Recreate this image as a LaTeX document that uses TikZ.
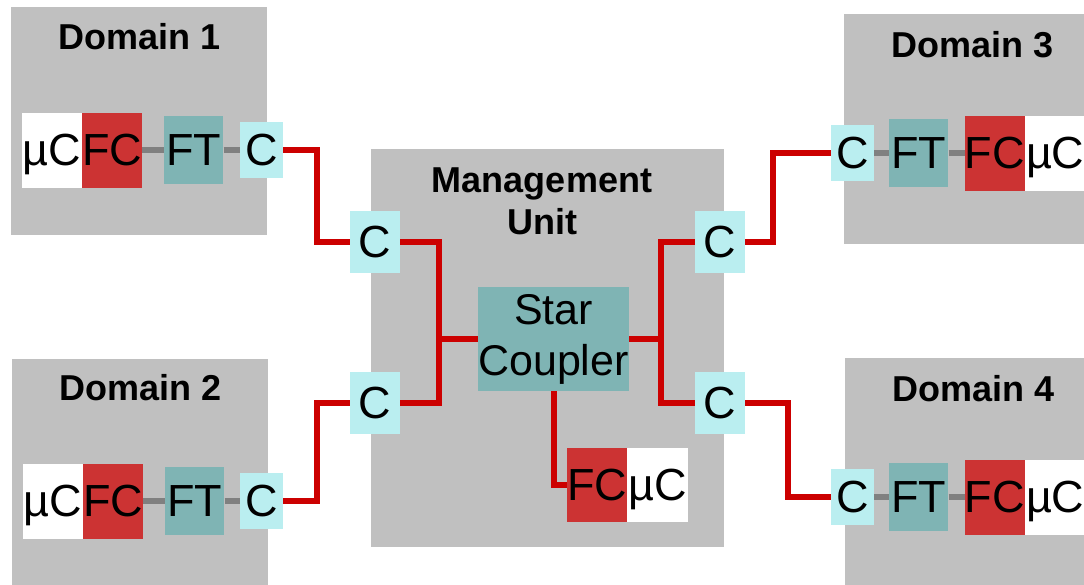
\documentclass[tikz,border=0pt]{standalone}
\usepackage{fontspec}
\setmainfont{Liberation Sans}
\usetikzlibrary{positioning}
\definecolor{unitgrey}{RGB}{192,192,192}
\definecolor{fcred}{RGB}{204,51,51}
\definecolor{ftteal}{RGB}{127,180,180}
\definecolor{ccyan}{RGB}{186,238,240}
\definecolor{busred}{RGB}{204,0,0}
\definecolor{linkgrey}{RGB}{128,128,128}
\newcommand{\lblfont}{\fontsize{45}{52}\selectfont}
\newcommand{\scfont}{\fontsize{43}{51}\selectfont}
\newcommand{\ttlfont}{\fontsize{36}{42}\selectfont\bfseries}

\begin{document}
\begin{tikzpicture}[x=1pt, y=-1pt,
  unit/.style={fill=unitgrey, anchor=north west, inner sep=0pt},
  ttl/.style={font=\ttlfont, align=center, inner sep=0pt},
  part/.style={font=\lblfont, inner sep=0pt, text depth=0pt, minimum height=75pt},
  mcu/.style={part, fill=white, minimum width=60pt},
  fcbox/.style={part, fill=fcred, minimum width=60pt},
  ftbox/.style={part, fill=ftteal, minimum width=59pt, minimum height=68pt},
  cbox/.style={part, fill=ccyan, minimum width=43pt, minimum height=56pt},
  mcbox/.style={cbox, minimum width=50pt, minimum height=62pt},
  star/.style={fill=ftteal, font=\scfont, align=center, inner sep=0pt,
    minimum width=149pt, minimum height=104pt},
  bus/.style={draw=busred, line width=6pt},
  link/.style={draw=linkgrey, line width=6pt},
  node distance=0pt]
\useasboundingbox (0,0) rectangle (1084,584);
\clip (0,0) rectangle (1084,584);

% grey units
\node[unit, minimum width=256pt, minimum height=228pt] (D1) at (11,7) {};
\node[unit, minimum width=256pt, minimum height=240pt] (D2) at (12,359) {};
\node[unit, minimum width=256pt, minimum height=230pt] (D3) at (844,14) {};
\node[unit, minimum width=256pt, minimum height=240pt] (D4) at (845,358) {};
\node[unit, minimum width=353pt, minimum height=398pt] (MU) at (371,149) {};
\node[ttl] at ([yshift=-30pt]D1.north) {Domain 1};
\node[ttl] at ([yshift=-29pt]D2.north) {Domain 2};
\node[ttl] at ([yshift=-31pt]D3.north) {Domain 3};
\node[ttl] at ([yshift=-31pt]D4.north) {Domain 4};
\node[ttl] at (542,201) {Management\\Unit};

% domain 1
\node[fcbox] (FC1) at (112,150) {FC};
\node[mcu, left=of FC1] (MC1) {µC};
\node[ftbox, right=22pt of FC1] (FT1) {FT};
\node[cbox, right=16pt of FT1] (C1) {C};
% domain 2
\node[fcbox] (FC2) at (113,501) {FC};
\node[mcu, left=of FC2] (MC2) {µC};
\node[ftbox, right=22pt of FC2] (FT2) {FT};
\node[cbox, right=15pt of FT2] (C2) {C};
% domain 3
\node[cbox] (C3) at (852.5,153) {C};
\node[ftbox, right=15pt of C3] (FT3) {FT};
\node[fcbox, right=16pt of FT3] (FC3) {FC};
\node[mcu, right=of FC3] (MC3) {µC};
% domain 4
\node[cbox] (C4) at (852.5,497) {C};
\node[ftbox, right=15pt of C4] (FT4) {FT};
\node[fcbox, right=16pt of FT4] (FC4) {FC};
\node[mcu, right=of FC4] (MC4) {µC};

% management unit
\node[mcbox] (CL1) at (375,242) {C};
\node[mcbox] (CL2) at (375,403) {C};
\node[mcbox] (CR1) at (720,242) {C};
\node[mcbox] (CR2) at (720,403) {C};
\node[star] (SC) at (553.5,339) {Star\\Coupler};
\node[fcbox, minimum height=74pt] (FCm) at (597,485) {FC};
\node[mcu, minimum height=74pt, minimum width=61pt, right=of FCm] (MCm) {µC};
\coordinate (JL) at (439,339);
\coordinate (JR) at (661,339);

% links
\draw[link] (FC1) -- (FT1);
\draw[link] (FT1) -- (C1);
\draw[link] (FC2) -- (FT2);
\draw[link] (FT2) -- (C2);
\draw[link] (C3) -- (FT3);
\draw[link] (FT3) -- (FC3);
\draw[link] (C4) -- (FT4);
\draw[link] (FT4) -- (FC4);

% bus
\draw[bus] (C1.east) -- ++(34,0) |- (CL1.west);
\draw[bus] (C2.east) -- ++(34,0) |- (CL2.west);
\draw[bus] (CL1.east) -| (JL) |- (CL2.east);
\draw[bus] (JL) -- (SC.west);
\draw[bus] (CR1.west) -| (JR) |- (CR2.west);
\draw[bus] (JR) -- (SC.east);
\draw[bus] (SC.south) |- (FCm.west);
\draw[bus] (CR1.east) -- ++(28,0) |- (C3.west);
\draw[bus] (CR2.east) -- ++(43,0) |- (C4.west);
\end{tikzpicture}
\end{document}
